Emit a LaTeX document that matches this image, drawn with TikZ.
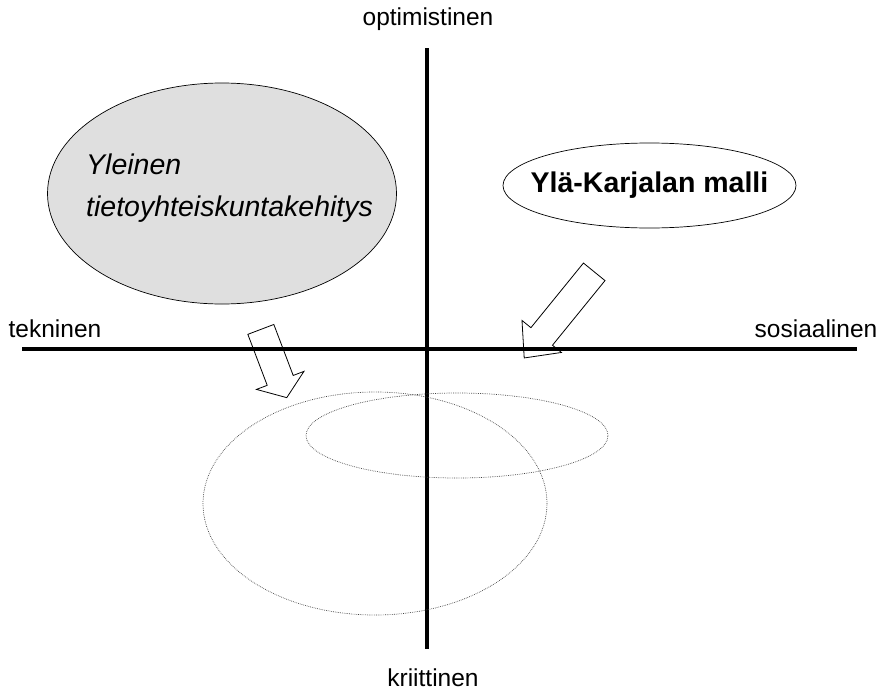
\documentclass[tikz,border=0pt]{standalone}
\usepackage{fontspec}
\setmainfont{Liberation Sans}
\usetikzlibrary{shapes.geometric, shapes.arrows}
\tikzset{
    x=1pt, y=-1pt, % pixel-like units, y pointing down
    akseli/.style={line width=3.5pt}, % the two thick axes
    akselinimi/.style={font=\fontsize{24.5}{28}\selectfont}, % axis end labels
    nuoli/.style={single arrow, draw, thick, inner xsep=0pt, inner ysep=13.5pt, single arrow head extend=11.5pt, minimum width=50pt}, % block arrows
    katkoellipsi/.style={ellipse, draw=gray!50!black, line width=0.7pt, dash pattern=on 0.7pt off 1.1pt, inner sep=0pt}, % dotted ellipses
}
\begin{document}
\begin{tikzpicture}[
                    malli/.style={ellipse, draw, line width=0.7pt, inner sep=0pt},
                   ]
    \useasboundingbox (0,0) rectangle (887,691);
    % axes
    \coordinate (vasen) at (22,349);
    \coordinate (oikea) at (857,349);
    \coordinate (yla) at (427,48);
    \coordinate (ala) at (427,649);
    \draw[akseli] (vasen) -- (oikea);
    \draw[akseli] (yla) -- (ala);
    \node[akselinimi] (opt) at (428,19) {optimistinen};
    \node[akselinimi] (krit) at (433,678) {kriittinen};
    \node[akselinimi] (tekn) at (55,329) {tekninen};
    \node[akselinimi] (sos) at (816,329) {sosiaalinen};
    % dotted ellipses
    \node[katkoellipsi, minimum width=344, minimum height=223] (suuri) at (375,503.5) {};
    \node[katkoellipsi, minimum width=302, minimum height=85] (pieni) at (457,435.5) {};
    % the two models
    \node[malli, fill=gray!25, minimum width=349, minimum height=221] (yleinen) at (222,193.5) {};
    \node[anchor=west, inner sep=0pt, align=left,
          font=\fontsize{28.5}{42}\selectfont\itshape] (yleinenteksti) at (86,188)
          {Yleinen\\tietoyhteiskuntakehitys};
    \node[malli, minimum width=293, minimum height=85] (ylakarjala) at (649.5,185.5) {};
    \node[font=\fontsize{28.5}{32}\selectfont\bfseries] (ylakarjalateksti) at (ylakarjala)
          {Ylä-Karjalan malli};
    % block arrows
    \node[nuoli, minimum height=73, single arrow tip angle=108, rotate=-69.2] (nuoliA) at (272,358.8) {};
    \node[nuoli, minimum height=111, single arrow tip angle=85, rotate=-129.1] (nuoliB) at (564,309) {};
\end{tikzpicture}
\end{document}
